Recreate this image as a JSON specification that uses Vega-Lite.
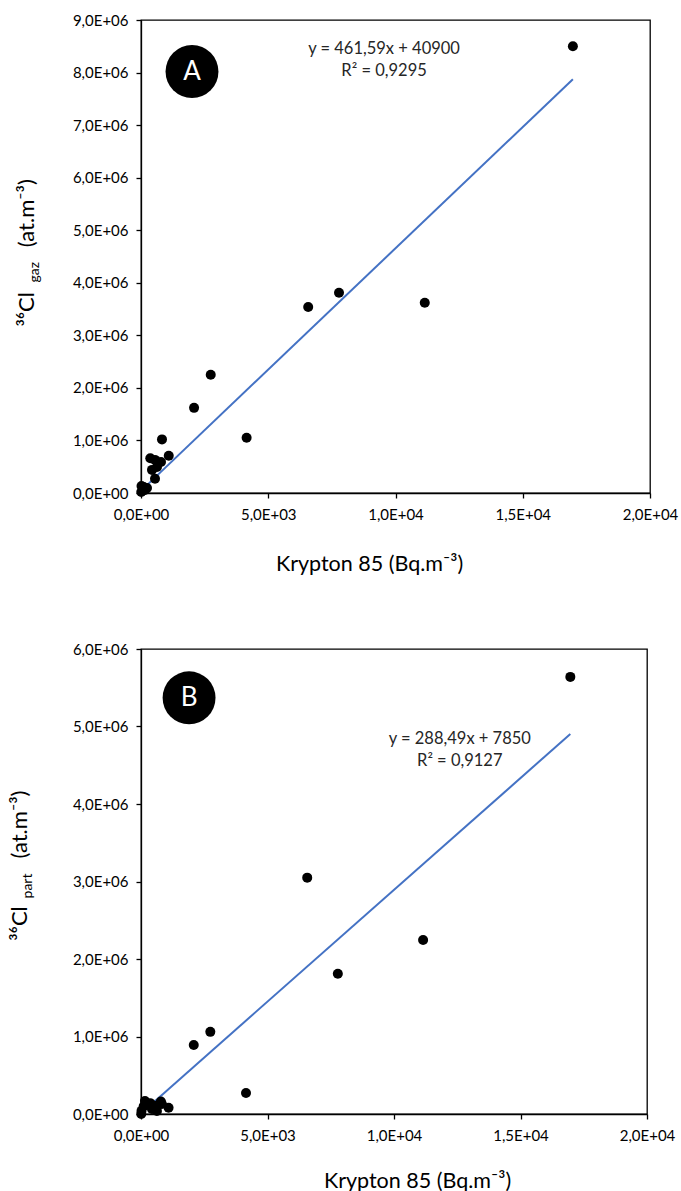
{
  "$schema": "https://vega.github.io/schema/vega-lite/v6.json",
  "padding": {"left": 8, "top": 12, "right": 0, "bottom": 0},
  "spacing": 65,
  "columns": 1,
  "align": "none",
  "config": {
    "font": "Lato",
    "view": {"stroke": "black", "strokeWidth": 1.3},
    "axis": {
      "grid": false,
      "domainColor": "black",
      "domainWidth": 1.3,
      "tickColor": "black",
      "tickWidth": 1.3,
      "tickSize": 5,
      "labelColor": "black",
      "titleColor": "black",
      "labelFont": "Lato",
      "labelFontSize": 15,
      "labelFlush": false,
      "titleFont": "Lato",
      "titleFontSize": 21.5,
      "titleFontWeight": "normal"
    }
  },
  "datasets": {
    "pts": [
      {"kr": 16970, "gaz": 8500000, "part": 5640000},
      {"kr": 6570, "gaz": 3540000, "part": 3050000},
      {"kr": 7780, "gaz": 3810000, "part": 1810000},
      {"kr": 11150, "gaz": 3620000, "part": 2245000},
      {"kr": 2740, "gaz": 2250000, "part": 1060000},
      {"kr": 2085, "gaz": 1620000, "part": 890000},
      {"kr": 4150, "gaz": 1050000, "part": 270000},
      {"kr": 825, "gaz": 1020000, "part": 130000},
      {"kr": 1090, "gaz": 710000, "part": 80000},
      {"kr": 365, "gaz": 660000, "part": 140000},
      {"kr": 550, "gaz": 630000, "part": 100000},
      {"kr": 786, "gaz": 590000, "part": 160000},
      {"kr": 629, "gaz": 495000, "part": 40000},
      {"kr": 432, "gaz": 440000, "part": 65000},
      {"kr": 550, "gaz": 270000, "part": 105000},
      {"kr": 20, "gaz": 133000, "part": 40000},
      {"kr": 106, "gaz": 114000, "part": 100000},
      {"kr": 10, "gaz": 19000, "part": 0},
      {"kr": 157, "gaz": 57000, "part": 168000},
      {"kr": 236, "gaz": 95000, "part": 120000}
    ],
    "fitA": [{"kr": 0, "cl": 40900}, {"kr": 16970, "cl": 7874082}],
    "fitB": [{"kr": 0, "cl": 7850}, {"kr": 16970, "cl": 4903525}],
    "annA": [
      {"t": "y = 461,59x + 40900", "x": 9550, "y": 8440000},
      {"t": "R² = 0,9295", "x": 9550, "y": 8030000}
    ],
    "annB": [
      {"t": "y = 288,49x + 7850", "x": 12600, "y": 4840000},
      {"t": "R² = 0,9127", "x": 12600, "y": 4555000}
    ]
  },
  "concat": [
    {
      "width": 509,
      "height": 473,
      "encoding": {
        "x": {"type": "quantitative", "scale": {"domain": [0, 20000], "nice": false},
          "axis": {"title": "Krypton 85 (Bq.m⁻³)", "values": [0, 5000, 10000, 15000, 20000], "labelPadding": 9, "titlePadding": 31, "titleX": 228,
            "labelExpr": "datum.value == 0 ? '0,0E+00' : replace(format(datum.value / pow(10, floor(log(datum.value)/LN10 + 1e-9)), '.1f'), '.', ',') + 'E+' + (floor(log(datum.value)/LN10 + 1e-9) < 10 ? '0' : '') + floor(log(datum.value)/LN10 + 1e-9)"}},
        "y": {"type": "quantitative", "scale": {"domain": [0, 9000000], "nice": false},
          "axis": {"title": "", "values": [0, 1000000, 2000000, 3000000, 4000000, 5000000, 6000000, 7000000, 8000000, 9000000], "labelPadding": 8,
            "labelExpr": "datum.value == 0 ? '0,0E+00' : replace(format(datum.value / pow(10, floor(log(datum.value)/LN10 + 1e-9)), '.1f'), '.', ',') + 'E+' + (floor(log(datum.value)/LN10 + 1e-9) < 10 ? '0' : '') + floor(log(datum.value)/LN10 + 1e-9)"}}
      },
      "layer": [
        {
          "data": {"name": "fitA"},
          "mark": {"type": "line", "color": "#4472C4", "strokeWidth": 2},
          "encoding": {"x": {"field": "kr"}, "y": {"field": "cl"}}
        },
        {
          "data": {"name": "pts"},
          "mark": {"type": "circle", "color": "black", "opacity": 1, "size": 100},
          "encoding": {"x": {"field": "kr"}, "y": {"field": "gaz"}}
        },
        {
          "data": {"name": "annA"},
          "mark": {"type": "text", "fontSize": 16.5, "color": "#262626", "align": "center", "baseline": "middle"},
          "encoding": {"x": {"field": "x"}, "y": {"field": "y"}, "text": {"field": "t"}}
        },
        {
          "data": {"values": [{"t": "A"}]},
          "mark": {"type": "circle", "color": "black", "opacity": 1, "size": 2800},
          "encoding": {"x": {"datum": 2004}, "y": {"datum": 8020000}}
        },
        {
          "data": {"values": [{"t": "A"}]},
          "mark": {"type": "text", "fontSize": 26, "color": "white", "align": "center", "baseline": "middle"},
          "encoding": {"x": {"datum": 2004}, "y": {"datum": 8020000}, "text": {"field": "t"}}
        },
        {
          "data": {"values": [{"t": "³⁶Cl"}]},
          "mark": {"type": "text", "fontSize": 22, "color": "black", "align": "center", "baseline": "middle", "angle": 270},
          "encoding": {"x": {"datum": -4480}, "y": {"datum": 3495000}, "text": {"field": "t"}}
        },
        {
          "data": {"values": [{"t": "gaz"}]},
          "mark": {"type": "text", "fontSize": 14, "color": "black", "align": "center", "baseline": "middle", "angle": 270},
          "encoding": {"x": {"datum": -4170}, "y": {"datum": 4200000}, "text": {"field": "t"}}
        },
        {
          "data": {"values": [{"t": "(at.m⁻³)"}]},
          "mark": {"type": "text", "fontSize": 22, "color": "black", "align": "center", "baseline": "middle", "angle": 270},
          "encoding": {"x": {"datum": -4480}, "y": {"datum": 5324000}, "text": {"field": "t"}}
        }
      ]
    },
    {
      "width": 506,
      "height": 465,
      "encoding": {
        "x": {"type": "quantitative", "scale": {"domain": [0, 20000], "nice": false},
          "axis": {"title": "Krypton 85 (Bq.m⁻³)", "values": [0, 5000, 10000, 15000, 20000], "labelPadding": 9, "titlePadding": 27, "titleX": 276,
            "labelExpr": "datum.value == 0 ? '0,0E+00' : replace(format(datum.value / pow(10, floor(log(datum.value)/LN10 + 1e-9)), '.1f'), '.', ',') + 'E+' + (floor(log(datum.value)/LN10 + 1e-9) < 10 ? '0' : '') + floor(log(datum.value)/LN10 + 1e-9)"}},
        "y": {"type": "quantitative", "scale": {"domain": [0, 6000000], "nice": false},
          "axis": {"title": "", "values": [0, 1000000, 2000000, 3000000, 4000000, 5000000, 6000000], "labelPadding": 8,
            "labelExpr": "datum.value == 0 ? '0,0E+00' : replace(format(datum.value / pow(10, floor(log(datum.value)/LN10 + 1e-9)), '.1f'), '.', ',') + 'E+' + (floor(log(datum.value)/LN10 + 1e-9) < 10 ? '0' : '') + floor(log(datum.value)/LN10 + 1e-9)"}}
      },
      "layer": [
        {
          "data": {"name": "fitB"},
          "mark": {"type": "line", "color": "#4472C4", "strokeWidth": 2},
          "encoding": {"x": {"field": "kr"}, "y": {"field": "cl"}}
        },
        {
          "data": {"name": "pts"},
          "mark": {"type": "circle", "color": "black", "opacity": 1, "size": 100},
          "encoding": {"x": {"field": "kr"}, "y": {"field": "part"}}
        },
        {
          "data": {"name": "annB"},
          "mark": {"type": "text", "fontSize": 16.5, "color": "#262626", "align": "center", "baseline": "middle"},
          "encoding": {"x": {"field": "x"}, "y": {"field": "y"}, "text": {"field": "t"}}
        },
        {
          "data": {"values": [{"t": "B"}]},
          "mark": {"type": "circle", "color": "black", "opacity": 1, "size": 2800},
          "encoding": {"x": {"datum": 1900}, "y": {"datum": 5370000}}
        },
        {
          "data": {"values": [{"t": "B"}]},
          "mark": {"type": "text", "fontSize": 26, "color": "white", "align": "center", "baseline": "middle"},
          "encoding": {"x": {"datum": 1900}, "y": {"datum": 5370000}, "text": {"field": "t"}}
        },
        {
          "data": {"values": [{"t": "³⁶Cl"}]},
          "mark": {"type": "text", "fontSize": 22, "color": "black", "align": "center", "baseline": "middle", "angle": 270},
          "encoding": {"x": {"datum": -4773}, "y": {"datum": 2458000}, "text": {"field": "t"}}
        },
        {
          "data": {"values": [{"t": "part"}]},
          "mark": {"type": "text", "fontSize": 14, "color": "black", "align": "center", "baseline": "middle", "angle": 270},
          "encoding": {"x": {"datum": -4460}, "y": {"datum": 2942000}, "text": {"field": "t"}}
        },
        {
          "data": {"values": [{"t": "(at.m⁻³)"}]},
          "mark": {"type": "text", "fontSize": 22, "color": "black", "align": "center", "baseline": "middle", "angle": 270},
          "encoding": {"x": {"datum": -4773}, "y": {"datum": 3735000}, "text": {"field": "t"}}
        }
      ]
    }
  ]
}
